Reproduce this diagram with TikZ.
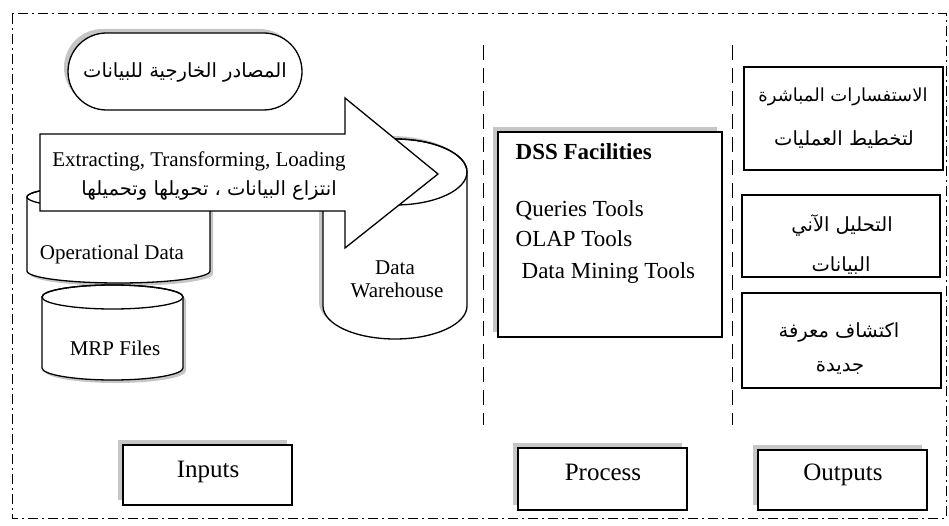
\documentclass[tikz,border=0pt]{standalone}
\usepackage{fontspec}
\setmainfont{Liberation Serif}
\newfontfamily\arabicfont[Script=Arabic]{DejaVu Sans}
\TeXXeTstate=1
\usetikzlibrary{shapes.misc,shadows}
\begin{document}
\begin{tikzpicture}[x=1pt,y=-1pt,line width=1.3pt,
  box/.style={draw,fill=white,inner sep=0pt,outer sep=0pt},
  shbox/.style={box,drop shadow={shadow xshift=-5pt,shadow yshift=5pt,fill=gray!45,opacity=1}},
  shade/.style={fill=gray!45,draw=none},
  lat/.style={font=\fontsize{21}{24}\selectfont,inner sep=0pt},
  big/.style={font=\fontsize{25}{28}\selectfont,inner sep=0pt},
  mid/.style={font=\fontsize{23}{26}\selectfont,inner sep=0pt},
  ar/.style={font=\arabicfont\fontsize{19.5}{22}\selectfont,inner sep=0pt},
  divider/.style={dash pattern=on 15pt off 8pt,line width=1pt},
  frameline/.style={dash pattern=on 10pt off 4pt on 2pt off 4pt,line width=1pt}]
\useasboundingbox (0,0) rectangle (949,526);
\draw[frameline] (12,14) rectangle (946,518);
\draw[divider] (483,45) -- (483,425);
\draw[divider] (732,45) -- (732,425);

% Operational Data cylinder
\begin{scope}[shift={(3,3)}]
\path[shade] (27,197) -- (27,271) arc[start angle=180,end angle=360,x radius=91.5pt,y radius=12pt] -- (210,197) arc[start angle=0,end angle=180,x radius=91.5pt,y radius=12pt] -- cycle;
\end{scope}
\filldraw[fill=white] (27,197) -- (27,271) arc[start angle=180,end angle=360,x radius=91.5pt,y radius=12pt] -- (210,197) arc[start angle=0,end angle=180,x radius=91.5pt,y radius=12pt] -- cycle;
\draw (118.5,197) ellipse[x radius=91.5pt,y radius=12pt];
\node[lat,anchor=base] (opd) at (112,260) {Operational Data};

% MRP Files cylinder
\begin{scope}[shift={(3,3)}]
\path[shade] (42,297) -- (42,368) arc[start angle=180,end angle=360,x radius=70.5pt,y radius=12pt] -- (183,297) arc[start angle=0,end angle=180,x radius=70.5pt,y radius=12pt] -- cycle;
\end{scope}
\filldraw[fill=white] (42,297) -- (42,368) arc[start angle=180,end angle=360,x radius=70.5pt,y radius=12pt] -- (183,297) arc[start angle=0,end angle=180,x radius=70.5pt,y radius=12pt] -- cycle;
\draw (112.5,297) ellipse[x radius=70.5pt,y radius=12pt];
\node[lat,anchor=base] (mrp) at (115,355) {MRP Files};

% Data Warehouse cylinder
\begin{scope}[shift={(-4,-3)}]
\path[shade] (323,172) -- (323,306) arc[start angle=180,end angle=360,x radius=72pt,y radius=33pt] -- (467,172) arc[start angle=0,end angle=180,x radius=72pt,y radius=33pt] -- cycle;
\end{scope}
\filldraw[fill=white] (323,172) -- (323,306) arc[start angle=180,end angle=360,x radius=72pt,y radius=33pt] -- (467,172) arc[start angle=0,end angle=180,x radius=72pt,y radius=33pt] -- cycle;
\draw (395,172) ellipse[x radius=72pt,y radius=33pt];
\node[lat,anchor=base] (dw1) at (395,275) {Data};
\node[lat,anchor=base] (dw2) at (397,298) {Warehouse};

% ETL arrow
\filldraw[fill=white] (40,134) -- (345,134) -- (345,98) -- (438,174) -- (345,248) -- (345,211) -- (40,211) -- cycle;
\node[lat,anchor=base] (etl) at (199,167) {Extracting, Transforming, Loading};
\node[ar] (etlar) at (209,190) {\beginR انتزاع البيانات ، تحويلها  وتحميلها\endR};

% external sources pill
\node[box,rounded rectangle,minimum width=234pt,minimum height=77pt,
  drop shadow={shadow xshift=-4pt,shadow yshift=4pt,fill=gray!45,opacity=1}] (ext) at (185,71.5) {};
\node[ar] (extt) at (185,72) {\beginR المصادر الخارجية للبيانات\endR};

% DSS facilities
\node[shbox,minimum width=224pt,minimum height=205pt] (dss) at (610,234.5) {};
\node[mid,anchor=base west,font=\fontsize{23}{26}\selectfont\bfseries] (dsst) at (515,160) {DSS Facilities};
\node[mid,anchor=base west] (q) at (515,217) {Queries Tools};
\node[mid,anchor=base west] (olap) at (515,247) {OLAP Tools};
\node[mid,anchor=base west] (dm) at (521,279) {Data Mining Tools};

% outputs column
\node[box,minimum width=199pt,minimum height=103pt] (o1) at (843.5,118.5) {};
\node[ar,font=\arabicfont\fontsize{18}{22}\selectfont] (o1a) at (843,97) {\beginR الاستفسارات المباشرة\endR};
\node[ar] (o1b) at (844,140) {\beginR لتخطيط العمليات\endR};
\node[box,minimum width=198pt,minimum height=82pt] (o2) at (841,236) {};
\node[ar] (o2a) at (842,225) {\beginR التحليل الآني\endR};
\node[ar] (o2b) at (841,266) {\beginR البيانات\endR};
\node[box,minimum width=199pt,minimum height=95pt] (o3) at (841.5,340.5) {};
\node[ar] (o3a) at (839,332) {\beginR اكتشاف معرفة\endR};
\node[ar] (o3b) at (840,368) {\beginR جديدة\endR};

% bottom labels
\node[shbox,minimum width=169pt,minimum height=60pt] (inb) at (207.5,475) {};
\node[big,anchor=base] (int) at (208,477) {Inputs};
\node[shbox,minimum width=169pt,minimum height=62pt] (prb) at (602.5,479) {};
\node[big,anchor=base] (prt) at (603,480) {Process};
\node[shbox,minimum width=169pt,minimum height=60pt] (oub) at (842.5,480) {};
\node[big,anchor=base] (out) at (843,480) {Outputs};
\end{tikzpicture}
\end{document}
